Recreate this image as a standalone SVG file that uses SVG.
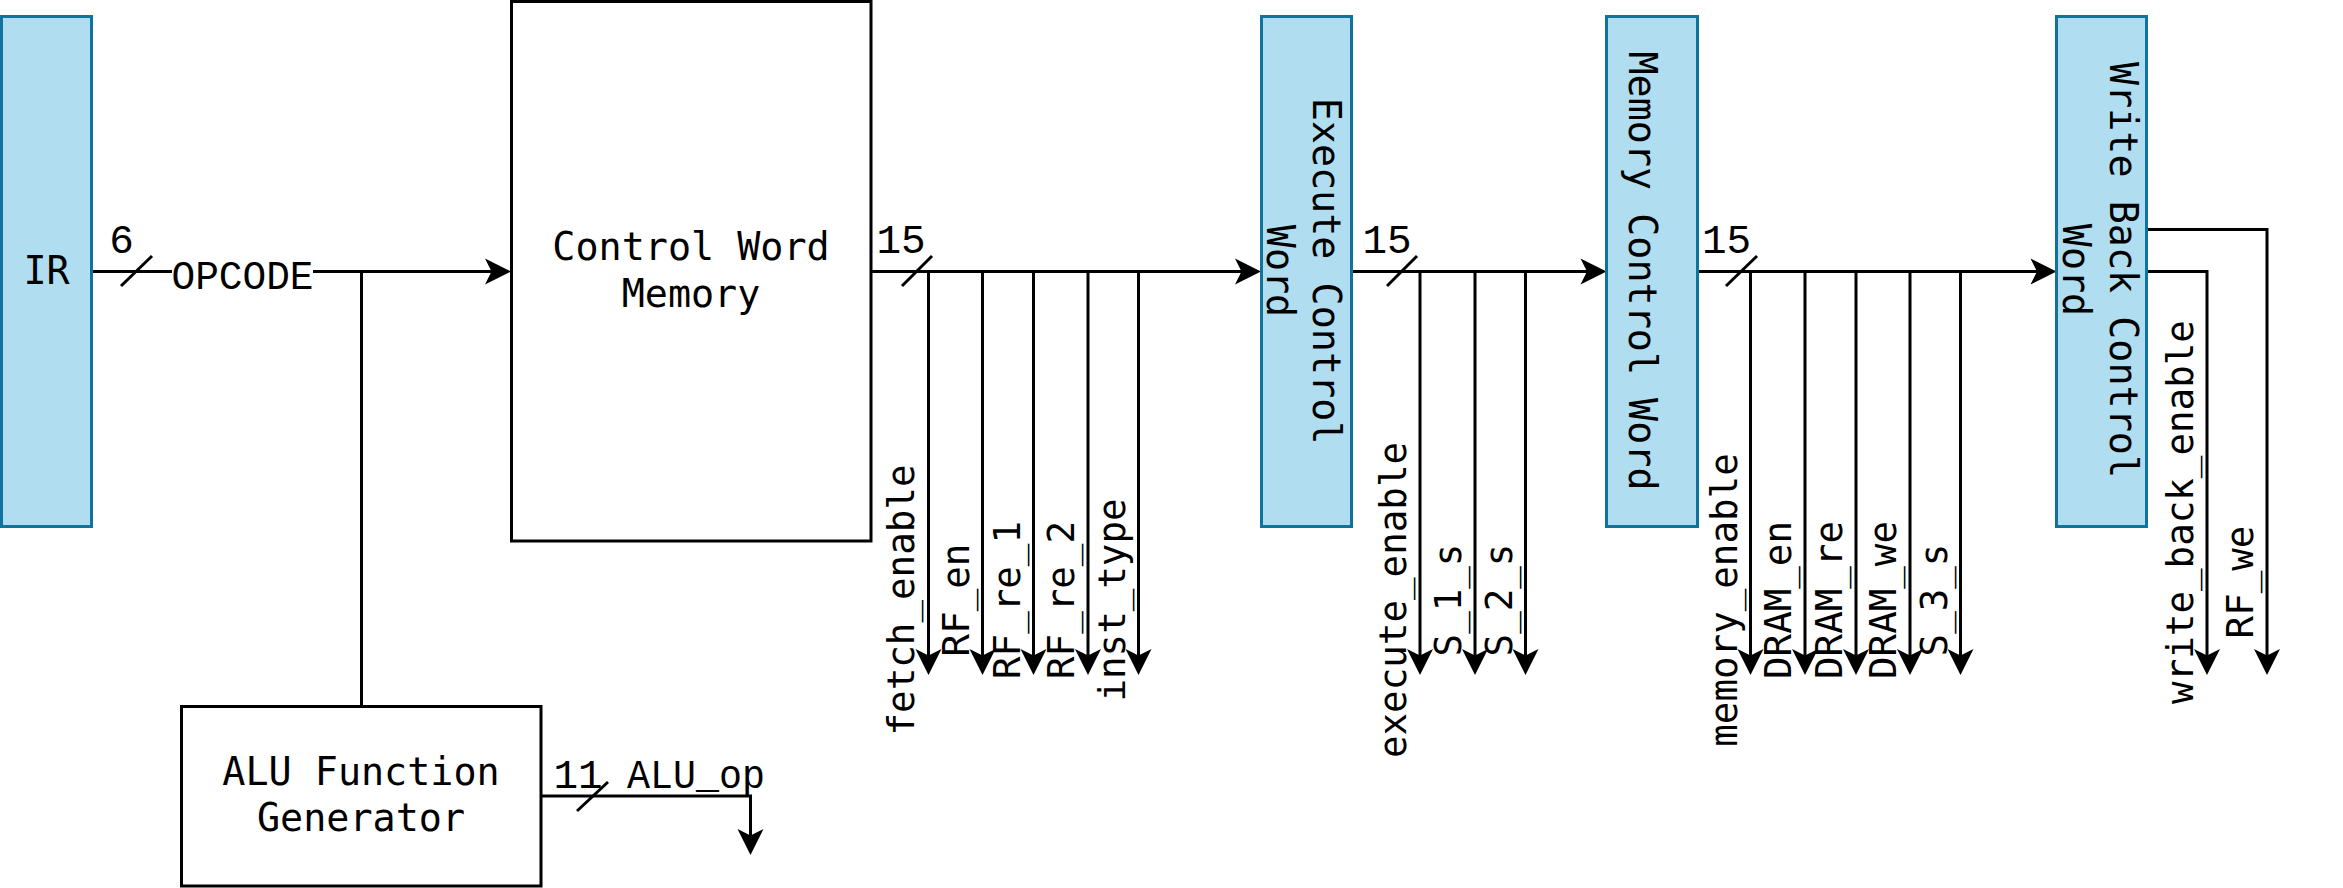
<svg xmlns="http://www.w3.org/2000/svg" width="2343" height="888" viewBox="0 0 2343 888">
<style>
.reg{fill:#b1ddf0;stroke:#10739e;stroke-width:3}
.blk{fill:#ffffff;stroke:#000000;stroke-width:3}
.nt{font-family:"DejaVu Sans Mono",monospace;font-size:38.4px;fill:#000;text-anchor:middle}
.pl{font-family:"DejaVu Sans Mono",monospace;font-size:37.5px;fill:#000;text-anchor:middle}
.el{font-family:"Liberation Mono",monospace;font-size:41px;fill:#000;text-anchor:middle}
.w{fill:none;stroke:#000;stroke-width:3}
.wa{fill:none;stroke:#000;stroke-width:3;marker-end:url(#arr)}
</style>
<defs>
<marker id="arr" viewBox="-27 -14 36 28" markerWidth="36" markerHeight="28" refX="-8" refY="0" orient="auto" markerUnits="userSpaceOnUse">
<path d="M0,0 L-26,-13 L-19.5,0 L-26,13 Z" fill="#000"/>
</marker>
</defs>
<rect width="2343" height="888" fill="#ffffff"/>

<g id="connectors">
<!-- IR to Control Word Memory -->
<path class="wa" d="M91.5,271.5 H503"/>
<line class="w" x1="121" y1="286" x2="152" y2="256"/>
<text class="el" x="121.5" y="253">6</text>
<rect x="172" y="258" width="141" height="34" fill="#ffffff"/>
<text class="el" x="242.5" y="289" textLength="142" lengthAdjust="spacingAndGlyphs">OPCODE</text>
<!-- ALU tap -->
<path class="w" d="M361.5,271.5 V706.5"/>
<!-- ALU output -->
<path class="wa" d="M541,796 H750.5 V847"/>
<line class="w" x1="577" y1="811" x2="608" y2="782"/>
<text class="el" x="578" y="788">11</text>
<text class="el" x="696" y="788" textLength="138" lengthAdjust="spacingAndGlyphs">ALU_op</text>

<!-- CWM to Execute -->
<path class="wa" d="M871,271.5 H1253"/>
<line class="w" x1="902" y1="286" x2="932" y2="256"/>
<text class="el" x="901" y="253">15</text>
<path class="wa" d="M928.5,271.5 V667"/>
<path class="wa" d="M982.5,271.5 V667"/>
<path class="wa" d="M1033.5,271.5 V667"/>
<path class="wa" d="M1088,271.5 V667"/>
<path class="wa" d="M1138.5,271.5 V667"/>
<text class="pl" transform="translate(914,600) rotate(-90)">fetch_enable</text>
<text class="pl" transform="translate(968.5,600) rotate(-90)">RF_en</text>
<text class="pl" transform="translate(1019.5,600) rotate(-90)">RF_re_1</text>
<text class="pl" transform="translate(1074,600) rotate(-90)">RF_re_2</text>
<text class="pl" transform="translate(1124.5,600) rotate(-90)">inst_type</text>

<!-- Execute to Memory -->
<path class="wa" d="M1352,271.5 H1598.5"/>
<line class="w" x1="1387" y1="286" x2="1417" y2="256"/>
<text class="el" x="1387" y="253">15</text>
<path class="wa" d="M1420,271.5 V667"/>
<path class="wa" d="M1475,271.5 V667"/>
<path class="wa" d="M1525.5,271.5 V667"/>
<text class="pl" transform="translate(1406,600) rotate(-90)">execute_enable</text>
<text class="pl" transform="translate(1461,600) rotate(-90)">S_1_s</text>
<text class="pl" transform="translate(1511.5,600) rotate(-90)">S_2_s</text>

<!-- Memory to Write Back -->
<path class="wa" d="M1698,271.5 H2048.5"/>
<line class="w" x1="1726" y1="286" x2="1757" y2="256"/>
<text class="el" x="1726.5" y="253">15</text>
<path class="wa" d="M1750.5,271.5 V667"/>
<path class="wa" d="M1805,271.5 V667"/>
<path class="wa" d="M1856,271.5 V667"/>
<path class="wa" d="M1910,271.5 V667"/>
<path class="wa" d="M1960.5,271.5 V667"/>
<text class="pl" transform="translate(1736.5,600) rotate(-90)">memory_enable</text>
<text class="pl" transform="translate(1791,600) rotate(-90)">DRAM_en</text>
<text class="pl" transform="translate(1842,600) rotate(-90)">DRAM_re</text>
<text class="pl" transform="translate(1896,600) rotate(-90)">DRAM_we</text>
<text class="pl" transform="translate(1946.5,600) rotate(-90)">S_3_s</text>

<!-- Write Back outputs -->
<path class="wa" d="M2147,229.5 H2267 V667"/>
<path class="wa" d="M2147,271.5 H2207 V667"/>
<text class="pl" transform="translate(2193,512) rotate(-90)">write_back_enable</text>
<text class="pl" transform="translate(2253,582) rotate(-90)">RF_we</text>
</g>

<g id="ir">
<rect class="reg" x="1.5" y="16.5" width="90" height="510"/>
<text class="nt" x="46.5" y="284">IR</text>
</g>

<g id="control-word-memory">
<rect class="blk" x="511.5" y="1.5" width="359.5" height="539.5"/>
<text class="nt" x="691" y="260">Control Word</text>
<text class="nt" x="691" y="307">Memory</text>
</g>

<g id="alu-function-generator">
<rect class="blk" x="181.5" y="706.5" width="359.5" height="179.5"/>
<text class="nt" x="361" y="785">ALU Function</text>
<text class="nt" x="361" y="831">Generator</text>
</g>

<g id="execute-control-word">
<rect class="reg" x="1261.5" y="16.5" width="90" height="510"/>
<text class="nt" transform="translate(1313,271) rotate(90)">Execute Control</text>
<text class="nt" transform="translate(1267,271) rotate(90)">Word</text>
</g>

<g id="memory-control-word">
<rect class="reg" x="1606.5" y="16.5" width="91" height="510"/>
<text class="nt" transform="translate(1629,271) rotate(90)">Memory Control Word</text>
</g>

<g id="write-back-control-word">
<rect class="reg" x="2056.5" y="16.5" width="90" height="510"/>
<text class="nt" transform="translate(2110,270) rotate(90)">Write Back Control</text>
<text class="nt" transform="translate(2063,270) rotate(90)">Word</text>
</g>
</svg>
